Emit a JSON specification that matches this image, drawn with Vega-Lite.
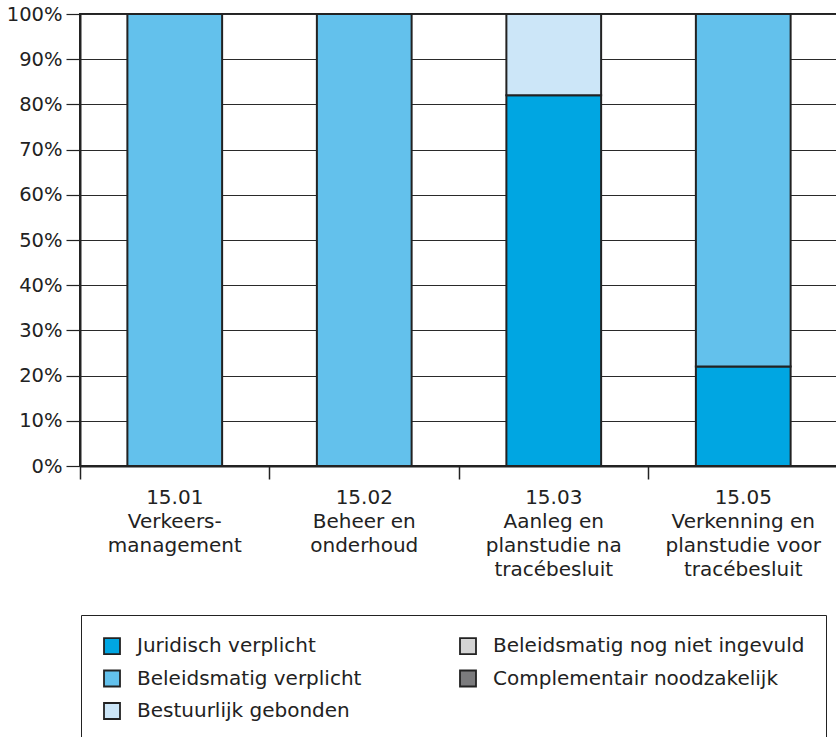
{
  "$schema": "https://vega.github.io/schema/vega-lite/v6.json",
  "width": 758,
  "height": 452,
  "autosize": {"type": "none"},
  "padding": {"left": 80, "top": 14, "right": 0, "bottom": 271},
  "config": {
    "font": "DejaVu Sans",
    "view": {"stroke": "#222222", "strokeWidth": 2}
  },
  "data": {
    "values": [
      {"code": "15.01|Verkeers-|management", "cat": "Beleidsmatig verplicht", "pct": 100, "ord": 2},
      {"code": "15.02|Beheer en|onderhoud", "cat": "Beleidsmatig verplicht", "pct": 100, "ord": 2},
      {"code": "15.03|Aanleg en|planstudie na|tracébesluit", "cat": "Juridisch verplicht", "pct": 82, "ord": 1},
      {"code": "15.03|Aanleg en|planstudie na|tracébesluit", "cat": "Bestuurlijk gebonden", "pct": 18, "ord": 3},
      {"code": "15.05|Verkenning en|planstudie voor|tracébesluit", "cat": "Juridisch verplicht", "pct": 22, "ord": 1},
      {"code": "15.05|Verkenning en|planstudie voor|tracébesluit", "cat": "Beleidsmatig verplicht", "pct": 78, "ord": 2}
    ]
  },
  "mark": {"type": "bar", "stroke": "#222222", "strokeWidth": 2, "width": {"band": 0.5}},
  "encoding": {
    "x": {
      "field": "code",
      "type": "nominal",
      "scale": {"paddingInner": 0, "paddingOuter": 0},
      "axis": {
        "title": null,
        "bandPosition": 0,
        "labelAngle": 0,
        "labelExpr": "split(datum.label, '|')",
        "labelFontSize": 20,
        "labelLineHeight": 24,
        "labelColor": "#222222",
        "labelPadding": 8,
        "labelLimit": 0,
        "tickSize": 13,
        "tickColor": "#222222",
        "tickWidth": 1.5,
        "domainColor": "#222222",
        "domainWidth": 2,
        "grid": false
      }
    },
    "y": {
      "field": "pct",
      "type": "quantitative",
      "stack": "zero",
      "scale": {"domain": [0, 100], "nice": false},
      "axis": {
        "title": null,
        "values": [0, 10, 20, 30, 40, 50, 60, 70, 80, 90, 100],
        "labelExpr": "datum.value + '%'",
        "labelFontSize": 19.5,
        "labelColor": "#222222",
        "labelPadding": 4,
        "tickSize": 14,
        "tickColor": "#222222",
        "tickWidth": 1.2,
        "domainColor": "#222222",
        "domainWidth": 2,
        "grid": true,
        "gridColor": "#2a2a2a",
        "gridWidth": 1.2,
        "gridOpacity": 1
      }
    },
    "color": {
      "field": "cat",
      "type": "nominal",
      "scale": {
        "domain": ["Juridisch verplicht", "Beleidsmatig verplicht", "Bestuurlijk gebonden", "Beleidsmatig nog niet ingevuld", "Complementair noodzakelijk"],
        "range": ["#00A6E2", "#63C1EC", "#CCE6F8", "#D4D4D4", "#7B7B7D"]
      },
      "legend": {
        "title": null,
        "orient": "none",
        "legendX": 1,
        "legendY": 601,
        "columns": 2,
        "padding": 21,
        "strokeColor": "#222222",
        "symbolType": "square",
        "symbolSize": 256,
        "symbolStrokeColor": "#222222",
        "symbolStrokeWidth": 1.8,
        "symbolOpacity": 1,
        "labelFontSize": 20,
        "labelColor": "#222222",
        "labelOffset": 15,
        "labelLimit": 0,
        "rowPadding": 8.5,
        "columnPadding": 94
      }
    },
    "order": {"field": "ord", "type": "quantitative"}
  }
}
